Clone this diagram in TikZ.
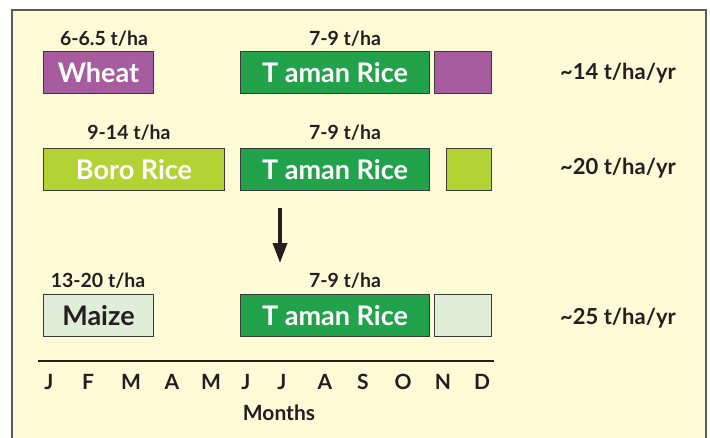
\documentclass[tikz,border=0pt]{standalone}
\usepackage{fontspec}
\setmainfont{Lato}
\usetikzlibrary{arrows.meta}
\definecolor{bgc}{HTML}{FFFBD6}
\definecolor{framec}{HTML}{5A5A5A}
\definecolor{purp}{HTML}{A85CA0}
\definecolor{tgreen}{HTML}{22A24A}
\definecolor{lime}{HTML}{B3D334}
\definecolor{maizec}{HTML}{E0EDD8}
\definecolor{ink}{HTML}{231F20}
\definecolor{edge}{HTML}{3A3A3A}
\tikzset{
  crop/.style={draw=edge, line width=1pt, inner sep=0pt, anchor=north west},
  croptext/.style={text=white, font=\fontsize{27}{29}\selectfont\bfseries},
  yieldlbl/.style={text=ink, font=\fontsize{19.5}{21}\selectfont\bfseries, inner sep=0pt},
  totallbl/.style={text=ink, font=\fontsize{22}{24}\selectfont\bfseries, inner sep=0pt},
  monthlbl/.style={text=ink, font=\fontsize{21}{23}\selectfont\bfseries, inner sep=0pt},
}
\begin{document}
\begin{tikzpicture}[x=1pt,y=-1pt]
\useasboundingbox (0,0) rectangle (710,437);
\clip (0,0) rectangle (710,437);
\fill[white] (0,0) rectangle (710,437);
\filldraw[fill=bgc, draw=framec, line width=1.5pt] (12,10) rectangle (706,450);
% row 1
\node[crop, fill=purp, minimum width=110pt, minimum height=42pt, croptext] (wheat) at (43,51) {Wheat};
\node[crop, fill=tgreen, minimum width=189pt, minimum height=42pt, croptext] (taman1) at (240,51) {T aman Rice};
\node[crop, fill=purp, minimum width=57pt, minimum height=42pt] (fallow1) at (434,51) {};
\node[yieldlbl] (y1a) at (104,39) {6-6.5 t/ha};
\node[yieldlbl] (y1b) at (345,39) {7-9 t/ha};
\node[totallbl] (t1) at (618,73) {\textasciitilde14 t/ha/yr};
% row 2
\node[crop, fill=lime, minimum width=181pt, minimum height=42pt, croptext] (boro) at (43,148) {Boro Rice};
\node[crop, fill=tgreen, minimum width=189pt, minimum height=42pt, croptext] (taman2) at (240,148) {T aman Rice};
\node[crop, fill=lime, minimum width=45pt, minimum height=42pt] (fallow2) at (446,148) {};
\node[yieldlbl] (y2a) at (129,133) {9-14 t/ha};
\node[yieldlbl] (y2b) at (345,133) {7-9 t/ha};
\node[totallbl] (t2) at (618,168) {\textasciitilde20 t/ha/yr};
% arrow
\coordinate (as) at (280,208);
\coordinate (ae) at (280,263);
\draw[ink, line width=3.5pt, -{Triangle[length=20pt,width=14pt]}] (as) -- (ae);
% row 3
\node[crop, fill=maizec, minimum width=110pt, minimum height=42pt, text=ink, font=\fontsize{27}{29}\selectfont\bfseries] (maize) at (43,294) {Maize};
\node[crop, fill=tgreen, minimum width=189pt, minimum height=42pt, croptext] (taman3) at (240,294) {T aman Rice};
\node[crop, fill=maizec, minimum width=57pt, minimum height=42pt] (fallow3) at (434,294) {};
\node[yieldlbl] (y3a) at (98,281) {13-20 t/ha};
\node[yieldlbl] (y3b) at (345,281) {7-9 t/ha};
\node[totallbl] (t3) at (618,318) {\textasciitilde25 t/ha/yr};
% axis
\coordinate (ax1) at (38,361);
\coordinate (ax2) at (494,361);
\draw[ink, line width=2pt] (ax1) -- (ax2);
\foreach \m/\xx [count=\i] in {J/49,F/88,M/131,A/172,M/211,J/246,J/282,A/325,S/363,O/403,N/443,D/482}
  \node[monthlbl] (m\i) at (\xx,382) {\m};
\node[monthlbl] (months) at (279,413) {Months};
\end{tikzpicture}
\end{document}
